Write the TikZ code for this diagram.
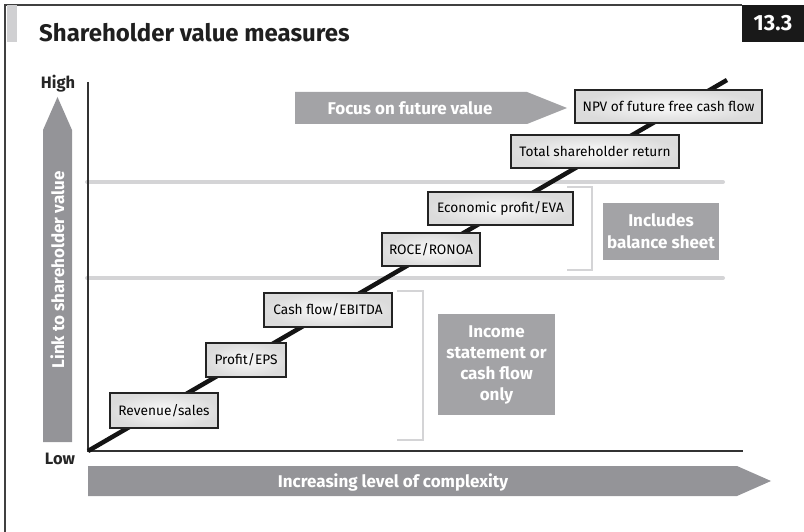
\documentclass[tikz,border=0pt]{standalone}
\usepackage{fontspec}
\setmainfont{Fira Sans}
\definecolor{arrowgray}{RGB}{148,148,152}
\definecolor{boxgray}{RGB}{163,163,166}
\definecolor{linegray}{RGB}{212,212,214}
\definecolor{bargray}{RGB}{208,208,210}
\definecolor{boxedge}{RGB}{35,35,35}
\begin{document}
\begin{tikzpicture}[x=1pt,y=-1pt,
  measure/.style={draw=boxedge,line width=1.3pt,inner color=gray!4,outer color=gray!28,
    font=\fontsize{13.7}{16}\selectfont,inner sep=0pt,minimum height=33pt},
  graybox/.style={fill=boxgray,draw=none,text=white,font=\fontsize{17}{21}\bfseries\selectfont,align=center,inner sep=0pt},
  bigarrow/.style={fill=arrowgray,draw=none},
  arrowtext/.style={text=white,font=\fontsize{17}{19}\bfseries\selectfont,inner sep=0pt},
  divider/.style={draw=linegray,line width=4pt,line cap=round},
  bracket/.style={draw=linegray,line width=2pt},
  axislabel/.style={font=\fontsize{16.5}{18}\bfseries\selectfont,text=black!85,inner sep=0pt}]
\useasboundingbox (0,0) rectangle (804,532);
% frame
\draw[line width=1.2pt,draw=black!75] (5,532) -- (5,5) -- (742,5);
\fill[bargray] (7,5) rectangle (17,42);
\fill[black!90] (742,5) rectangle (804,42);
\node[text=white,font=\fontsize{22}{24}\bfseries\selectfont,inner sep=0pt] (num) at (773,23) {13.3};
\node[anchor=west,font=\fontsize{24}{26}\bfseries\selectfont,text=black!88,inner sep=0pt] (title) at (39,33) {Shareholder value measures};
% dividers
\coordinate (d1l) at (87,182); \coordinate (d1r) at (723,182);
\coordinate (d2l) at (87,278); \coordinate (d2r) at (723,278);
\draw[divider] (d1l) -- (d1r);
\draw[divider] (d2l) -- (d2r);
% axes
\coordinate (origin) at (88,451);
\coordinate (ytop) at (88,82);
\coordinate (xend) at (743,451);
\draw[line width=1.1pt,black!80] (ytop) -- (origin) -- (xend);
% diagonal
\coordinate (dtop) at (727,80);
\draw[line width=4.5pt,black!92] (origin) -- (dtop);
% axis labels
\node[axislabel] (high) at (58,84) {High};
\node[axislabel] (low) at (60,459) {Low};
% vertical arrow
\fill[bigarrow] (43,442) -- (43,130) -- (57.5,97) -- (72,130) -- (72,442) -- cycle;
\node[arrowtext,rotate=90] (ylab) at (57.5,270) {Link to shareholder value};
% horizontal arrow
\fill[bigarrow] (88,466) -- (737,466) -- (771,481) -- (737,496) -- (88,496) -- cycle;
\node[arrowtext] (xlab) at (393,482) {Increasing level of complexity};
% focus arrow
\fill[fill=boxgray] (295,92) -- (527,92) -- (567,108) -- (527,124) -- (295,124) -- cycle;
\node[arrowtext] (focus) at (410,108) {Focus on future value};
% brackets
\draw[bracket] (397,291) -- (423,291) -- (423,440) -- (397,440);
\draw[bracket] (567,187) -- (592,187) -- (592,270) -- (567,270);
% measure boxes
\node[measure,minimum width=108pt,minimum height=35pt] (rev) at (164,410.5) {Revenue/sales};
\node[measure,minimum width=80pt,minimum height=34pt] (eps) at (246,360) {Profit/EPS};
\node[measure,minimum width=128pt,minimum height=34pt] (cash) at (328,310) {Cash flow/EBITDA};
\node[measure,minimum width=98pt] (roce) at (431,249.5) {ROCE/RONOA};
\node[measure,minimum width=145pt] (eva) at (500.5,208.5) {Economic profit/EVA};
\node[measure,minimum width=168pt] (tsr) at (595,151.5) {Total shareholder return};
\node[measure,minimum width=187pt] (npv) at (668.5,106.5) {NPV of future free cash flow};
% gray category boxes
\node[graybox,minimum width=117pt,minimum height=101pt] (income) at (496.5,364.5) {Income\\statement or\\cash flow\\only};
\node[graybox,minimum width=116pt,minimum height=57pt,font=\fontsize{17}{22}\bfseries\selectfont] (bal) at (661,231.5) {Includes\\balance sheet};
\end{tikzpicture}
\end{document}
